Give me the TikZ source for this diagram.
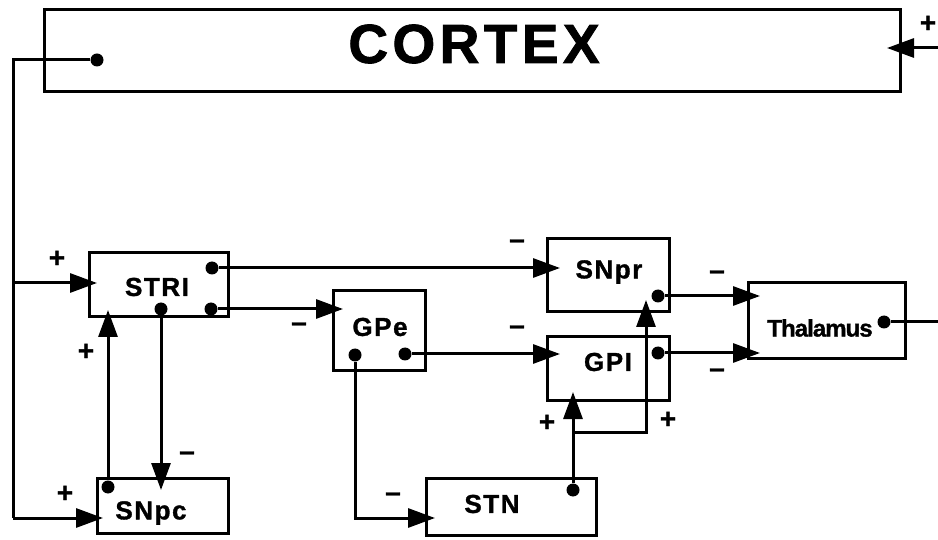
\documentclass[tikz,border=0pt]{standalone}
\usepackage{fontspec}
\setmainfont{Liberation Sans}
\newfontfamily\boxfont{Liberation Sans}[LetterSpace=6,FakeBold=1.2]
\newfontfamily\cxfont{Liberation Sans}[LetterSpace=8,FakeBold=1.5]
\newfontfamily\plainfont{Liberation Sans}[FakeBold=1.2]
\newfontfamily\thfont{Liberation Sans}[LetterSpace=-4,FakeBold=1.2]
\usetikzlibrary{arrows.meta}
\begin{document}
\begin{tikzpicture}[x=1pt,y=-1pt,
  box/.style={draw,line width=3pt,inner sep=0pt},
  lbl/.style={inner sep=0pt,font=\boxfont\bfseries\fontsize{26}{26}\selectfont},
  sign/.style={inner sep=0pt,font=\plainfont\bfseries\fontsize{28}{28}\selectfont},
  dot/.style={circle,fill,inner sep=0pt,minimum size=13pt},
  con/.style={line width=3pt},
  arr/.style={con,-{Triangle[length=27pt,width=19pt]}}]
\useasboundingbox (0,0) rectangle (938,540);
% boxes
\node[box,minimum width=856pt,minimum height=82pt] (cortex) at (472,51) {};
\node[inner sep=0pt,font=\cxfont\bfseries\fontsize{55}{55}\selectfont] (cortext) at (474,44) {CORTEX};
\node[box,minimum width=139pt,minimum height=64pt] (stri) at (158.5,285) {};
\node[lbl] (stritext) at (157,287) {STRI};
\node[box,minimum width=92pt,minimum height=79pt] (gpe) at (379,330.5) {};
\node[lbl] (gpetext) at (380,327) {GPe};
\node[box,minimum width=122pt,minimum height=73pt] (snpr) at (608,275.5) {};
\node[lbl] (snprtext) at (609,272) {SNpr};
\node[box,minimum width=122pt,minimum height=63pt] (gpi) at (608,368.5) {};
\node[lbl] (gpitext) at (608,362) {GPI};
\node[box,minimum width=157pt,minimum height=76pt] (thal) at (826.5,321) {};
\node[inner sep=0pt,font=\thfont\bfseries\fontsize{24}{24}\selectfont] (thaltext) at (820,328) {Thalamus};
\node[box,minimum width=170pt,minimum height=57pt] (stn) at (511,506.5) {};
\node[lbl] (stntext) at (492,504) {STN};
\node[box,minimum width=131pt,minimum height=55pt] (snpc) at (162.5,505.5) {};
\node[lbl] (snpctext) at (151,513) {SNpc};
% dots
\node[dot] (dcx) at (97,60) {};
\node[dot] (dst1) at (212,268) {};
\node[dot] (dst2) at (211,309) {};
\node[dot] (dst3) at (161,309) {};
\node[dot] (dpc) at (108,487) {};
\node[dot] (dge1) at (405,354) {};
\node[dot] (dge2) at (355,355) {};
\node[dot] (dstn) at (573,490) {};
\node[dot] (dsnr) at (658,296) {};
\node[dot] (dgpi) at (658,353) {};
\node[dot] (dth) at (884,322) {};
% coordinates
\coordinate (cl1) at (13,60);
\coordinate (cl2) at (13,518);
\coordinate (cl3) at (13,283);
\coordinate (tpc) at (103,518);
\coordinate (tst) at (97,283);
\coordinate (rin) at (938,48);
\coordinate (tcx) at (887,48);
\coordinate (tsnr) at (560,268);
\coordinate (tgpe) at (343,309);
\coordinate (tpcd) at (161,490);
\coordinate (tstu) at (108,310);
\coordinate (tgpi) at (560,354);
\coordinate (ge2b) at (355,518);
\coordinate (tstn) at (435,518);
\coordinate (tgpiu) at (573,392);
\coordinate (br1) at (573,432);
\coordinate (br2) at (646,432);
\coordinate (tsnru) at (646,300);
\coordinate (tth1) at (760,296);
\coordinate (tth2) at (760,353);
\coordinate (thout) at (938,322);
% connectors
\draw[con] (dcx) -- (cl1) -- (cl2);
\draw[arr] (cl2) -- (tpc);
\draw[arr] (cl3) -- (tst);
\draw[arr] (rin) -- (tcx);
\draw[arr] (dst1) -- (tsnr);
\draw[arr] (dst2) -- (tgpe);
\draw[arr] (dst3) -- (tpcd);
\draw[arr] (dpc) -- (tstu);
\draw[arr] (dge1) -- (tgpi);
\draw[arr] (dge2) -- (ge2b) -- (tstn);
\draw[arr] (dstn) -- (tgpiu);
\draw[arr] (br1) -- (br2) -- (tsnru);
\draw[arr] (dsnr) -- (tth1);
\draw[arr] (dgpi) -- (tth2);
\draw[con] (dth) -- (thout);
% signs
\node[sign] (s1) at (928,24) {+};
\node[sign] (s2) at (57,259) {+};
\node[sign] (s3) at (86,352) {+};
\node[sign] (s4) at (299,327) {–};
\node[sign] (s5) at (517,244) {–};
\node[sign] (s6) at (717,275) {–};
\node[sign] (s7) at (517,330) {–};
\node[sign] (s8) at (717,373) {–};
\node[sign] (s9) at (187,456) {–};
\node[sign] (s10) at (65,494) {+};
\node[sign] (s11) at (393,497) {–};
\node[sign] (s12) at (547,423) {+};
\node[sign] (s13) at (668,420) {+};
\end{tikzpicture}
\end{document}
